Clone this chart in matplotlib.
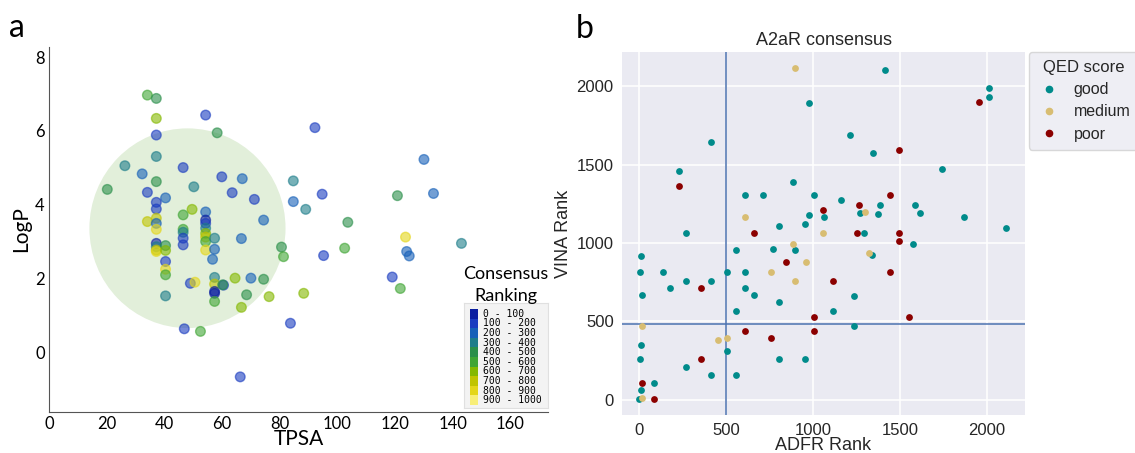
import matplotlib
matplotlib.use('Agg')
import matplotlib.pyplot as plt
from matplotlib.patches import Ellipse, Rectangle
from matplotlib.lines import Line2D

# ---- panel a data: TPSA, LogP, consensus ranking ----
tpsa = [34.1, 37.2, 37.2, 54.3, 92.2, 58.3, 37.2, 37.2, 26.3, 130.0,
        32.3, 46.5, 50.2, 37.2, 59.9, 67.0, 20.2, 34.1, 40.4, 37.2,
        37.2, 63.5, 71.2, 84.7, 84.7, 89.0, 94.7, 120.8, 133.3, 103.6,
        49.6, 46.5, 54.3, 54.3, 54.3, 54.3, 54.3, 54.3, 54.3, 54.3,
        57.4, 57.4, 56.7, 74.4, 66.7, 34.1, 37.2, 37.2, 37.2, 46.5,
        46.5, 46.5, 46.5, 37.2, 37.2, 37.2, 37.2, 40.4, 40.4, 40.4,
        40.4, 40.4, 40.4, 49.0, 50.6, 57.4, 57.4, 57.4, 57.4, 60.5,
        60.2, 57.4, 64.5, 70.0, 74.4, 68.5, 66.7, 76.3, 80.6, 81.3,
        88.3, 102.5, 95.2, 123.6, 124.0, 124.9, 119.0, 121.8, 143.0, 83.7,
        46.9, 52.5, 66.3]
logp = [6.97, 6.88, 6.34, 6.43, 6.09, 5.95, 5.89, 5.31, 5.06, 5.23,
        4.84, 5.01, 4.49, 4.63, 4.76, 4.71, 4.42, 4.34, 4.19, 4.07,
        3.89, 4.33, 4.15, 4.65, 4.09, 3.88, 4.29, 4.25, 4.31, 3.53,
        3.88, 3.73, 3.81, 3.59, 3.50, 3.37, 3.23, 3.13, 3.01, 2.78,
        3.10, 2.80, 2.53, 3.59, 3.09, 3.55, 3.64, 3.50, 3.34, 3.34,
        3.26, 3.10, 2.92, 2.96, 2.87, 2.78, 2.74, 2.90, 2.77, 2.47,
        2.26, 2.11, 1.54, 1.88, 1.91, 2.04, 1.86, 1.66, 1.61, 1.83,
        1.84, 1.39, 2.02, 2.02, 1.99, 1.57, 1.23, 1.52, 2.86, 2.60,
        1.61, 2.83, 2.63, 3.13, 2.74, 2.62, 2.05, 1.74, 2.96, 0.80,
        0.65, 0.58, -0.65]
rank = [550, 450, 650, 150, 150, 450, 150, 350, 350, 250,
        250, 150, 350, 450, 150, 250, 450, 150, 250, 150,
        150, 150, 150, 350, 250, 350, 150, 450, 250, 450,
        650, 550, 250, 50, 150, 350, 650, 750, 550, 850,
        350, 250, 250, 250, 250, 750, 750, 250, 850, 550,
        350, 150, 150, 50, 350, 750, 850, 450, 650, 150,
        850, 550, 350, 150, 850, 350, 750, 50, 50, 150,
        450, 550, 650, 250, 450, 450, 650, 650, 450, 550,
        650, 550, 150, 850, 250, 250, 150, 550, 350, 150,
        150, 550, 150]
bin_labels = ['0 - 100', '100 - 200', '200 - 300', '300 - 400', '400 - 500',
              '500 - 600', '600 - 700', '700 - 800', '800 - 900', '900 - 1000']
bin_colors = ['#0a1ea0', '#1a3cc0', '#1660b8', '#1d7d8a', '#2a8f4a',
              '#3fa534', '#84b800', '#c0c400', '#e4d61a', '#f8ee78']

# ---- panel b data: ADFR rank, VINA rank by QED score ----
good_adfr = [1415, 2011, 2011, 975, 1211, 411, 1347, 1743, 227, 882,
             606, 714, 1008, 1162, 1385, 1585, 1267, 1371, 1613, 975,
             1063, 1869, 956, 806, 2109, 267, 1295, 1573, 768, 556,
             897, 1339, 11, 6, 135, 505, 606, 267, 411, 175,
             606, 15, 661, 806, 1236, 556, 1112, 1236, 11, 505,
             6, 806, 952, 267, 411, 556, 84, 13, 2]
good_vina = [2100, 1985, 1932, 1892, 1688, 1643, 1571, 1469, 1461, 1386,
             1304, 1304, 1304, 1272, 1242, 1242, 1189, 1183, 1189, 1180,
             1163, 1168, 1119, 1110, 1096, 1064, 1064, 994, 964, 958,
             958, 924, 915, 817, 817, 817, 817, 758, 758, 715,
             715, 669, 669, 622, 660, 567, 567, 473, 348, 314,
             263, 263, 263, 210, 161, 161, 110, 64, 8]
medium_adfr = [897, 606, 1301, 1055, 882, 1324, 958, 756, 897, 15, 505, 453, 19]
medium_vina = [2117, 1163, 1200, 1064, 994, 936, 877, 817, 758, 473, 397, 384, 15]
poor_adfr = [1954, 1495, 227, 1440, 1263, 1055, 661, 1255, 1495, 1495,
             846, 1440, 1112, 354, 1008, 1554, 606, 1008, 756, 354, 19, 84]
poor_vina = [1898, 1592, 1361, 1304, 1242, 1212, 1064, 1064, 1064, 1015,
             877, 817, 758, 715, 529, 529, 437, 437, 397, 263, 110, 8]
qed_names = ['good', 'medium', 'poor']
qed_colors = ['#008b8b', '#d8bd72', '#8b0000']

fig = plt.figure(figsize=(11.35, 4.53), dpi=100)

# ================= panel a =================
fa = 'Lato'
ax1 = fig.add_axes([0.0432, 0.0905, 0.4396, 0.8057])
ax1.set_xlim(0, 173)
ax1.set_ylim(-1.6, 8.27)
ax1.add_patch(Ellipse((48, 3.37), 68, 5.4, color='#e2efda', zorder=0, lw=0))

cols = [bin_colors[min(r // 100, 9)] for r in rank]
ax1.scatter(tpsa, logp, s=48, c=cols, edgecolors=cols, linewidths=1.0,
            alpha=0.6, zorder=2)

for s in ['top', 'right']:
    ax1.spines[s].set_visible(False)
for s in ['left', 'bottom']:
    ax1.spines[s].set_color('#555555')
ax1.set_xticks(range(0, 161, 20))
ax1.set_yticks(range(0, 9, 2))
ax1.tick_params(length=0, labelsize=12, pad=3)
for lab in ax1.get_xticklabels() + ax1.get_yticklabels():
    lab.set_family(fa)
ax1.set_xlabel('TPSA', fontsize=15, family=fa, labelpad=-2)
ax1.set_ylabel('LogP', fontsize=15, family=fa, labelpad=3)

# colour key for consensus ranking
fig.text(506 / 1135, 1 - 274 / 453, 'Consensus', fontsize=13, family=fa,
         ha='center', va='center')
fig.text(506 / 1135, 1 - 296 / 453, 'Ranking', fontsize=13, family=fa,
         ha='center', va='center')
kax = fig.add_axes([464 / 1135, 1 - 408 / 453, 84 / 1135, 105 / 453])
kax.set_xlim(0, 84)
kax.set_ylim(105, 0)
kax.set_facecolor('#f3f3f3')
kax.set_xticks([])
kax.set_yticks([])
for s in kax.spines.values():
    s.set_color('#e0e0e0')
for i, (lab, c) in enumerate(zip(bin_labels, bin_colors)):
    y0 = 6 + i * 9.6
    kax.add_patch(Rectangle((6, y0), 8, 9.7, color=c, lw=0))
    kax.text(19, y0 + 4.8, lab, fontsize=7, family='DejaVu Sans Mono',
             va='center', ha='left')

fig.text(0.008, 1 - 28 / 453, 'a', fontsize=23, family=fa, va='center')

# ================= panel b =================
fb = 'Liberation Sans'
ax2 = fig.add_axes([622 / 1135, 1 - 415 / 453, 403 / 1135, 363 / 453])
ax2.set_facecolor('#eaeaf2')
ax2.grid(True, color='white', lw=1.1)
ax2.set_axisbelow(True)
for s in ax2.spines.values():
    s.set_visible(False)
ax2.set_xlim(-98, 2218)
ax2.set_ylim(-96, 2217)
ax2.set_xticks([0, 500, 1000, 1500, 2000])
ax2.set_yticks([0, 500, 1000, 1500, 2000])
ax2.tick_params(length=0, labelsize=12, labelcolor='#262626', pad=6)
for lab in ax2.get_xticklabels() + ax2.get_yticklabels():
    lab.set_family(fb)

ax2.axvline(500, color='#4c72b0', lw=1.1, zorder=1)
ax2.axhline(485, color='#4c72b0', lw=1.1, zorder=1)

series = [(good_adfr, good_vina), (medium_adfr, medium_vina), (poor_adfr, poor_vina)]
for (xs, ys), name, c in zip(series, qed_names, qed_colors):
    ax2.scatter(xs, ys, s=24, color=c, linewidths=0, zorder=3, label=name)

ax2.set_title('A2aR consensus', fontsize=13, family=fb, color='#262626', pad=5)
ax2.set_xlabel('ADFR Rank', fontsize=13, family=fb, color='#262626', labelpad=-1)
ax2.set_ylabel('VINA Rank', fontsize=13, family=fb, color='#262626', labelpad=3)

handles = [Line2D([], [], ls='', marker='o', ms=4.5, color=c, label=n)
           for n, c in zip(qed_names, qed_colors)]
leg = ax2.legend(handles=handles, title='QED score', loc='upper left',
                 bbox_to_anchor=(1.01, 1.0), borderaxespad=0, frameon=True,
                 facecolor='#eaeaf2', edgecolor='#d0d0d0',
                 handletextpad=0.8, handlelength=1.5, labelspacing=0.45,
                 borderpad=0.5, prop={'family': fb, 'size': 11.5})
leg.get_title().set_family(fb)
leg.get_title().set_fontsize(12)
leg.get_title().set_color('#262626')
for t in leg.get_texts():
    t.set_color('#262626')

fig.text(0.507, 1 - 29 / 453, 'b', fontsize=23, family=fa, va='center')

fig.savefig('out.png', dpi=100)
